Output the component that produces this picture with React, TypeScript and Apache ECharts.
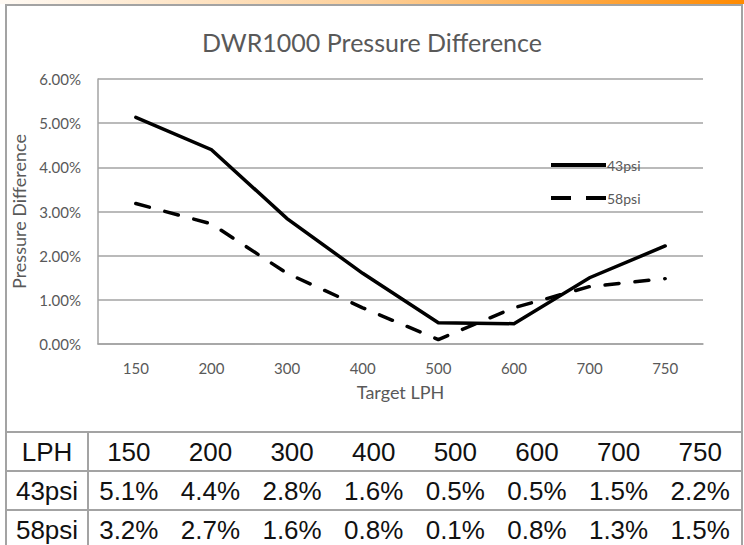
import React, { useEffect, useRef } from "react";
import * as echarts from "echarts";

const categories = ["150", "200", "300", "400", "500", "600", "700", "750"];
const psi43 = [5.13, 4.4, 2.84, 1.6, 0.48, 0.46, 1.5, 2.22];
const psi58 = [3.18, 2.72, 1.6, 0.82, 0.1, 0.82, 1.3, 1.48];
const seriesNames = ["43psi", "58psi"];
const yTicks = [0, 1, 2, 3, 4, 5, 6];
const tableHeader = "LPH";

const W = 744;
const H = 545;

export default function App() {
  const ref = useRef<HTMLDivElement>(null);
  useEffect(() => {
    if (!ref.current) return;
    const chart = echarts.init(ref.current, undefined, { renderer: "svg" });
    const gray = "#a3a3a3";
    const textGray = "#595959";
    const chartFont = "Lato, 'Open Sans', sans-serif";
    const tableFont = "'Liberation Sans Narrow', 'Liberation Sans', Arial, sans-serif";

    const frameL = 6;
    const frameR = 741;
    const tableTop = 432;
    const rowH = 39;
    const firstColR = 88;
    const colW = (frameR - firstColR) / categories.length;

    const rows = [
      { label: tableHeader, vals: categories },
      { label: seriesNames[0], vals: psi43.map((v) => v.toFixed(1) + "%") },
      { label: seriesNames[1], vals: psi58.map((v) => v.toFixed(1) + "%") },
    ];

    const graphics: any[] = [
      {
        type: "rect",
        shape: { x: 0, y: 0, width: W, height: 4 },
        style: {
          fill: new echarts.graphic.LinearGradient(0, 0, 1, 0, [
            { offset: 0, color: "#fffaf4" },
            { offset: 0.5, color: "#fdcf98" },
            { offset: 1, color: "#ff8a00" },
          ]),
        },
        silent: true,
      },
      {
        type: "polyline",
        shape: { points: [[frameL, H + 5], [frameL, 5], [frameR + 1, 5], [frameR + 1, H + 5]] },
        style: { stroke: gray, lineWidth: 2, fill: null },
        silent: true,
      },
      {
        type: "line",
        shape: { x1: firstColR, y1: tableTop, x2: firstColR, y2: H + 5 },
        style: { stroke: gray, lineWidth: 2 },
        silent: true,
      },
    ];
    for (let r = 0; r < 3; r++) {
      const y0 = tableTop + r * rowH;
      graphics.push({
        type: "line",
        shape: { x1: frameL, y1: y0, x2: frameR + 1, y2: y0 },
        style: { stroke: gray, lineWidth: 2 },
        silent: true,
      });
      const cy = y0 + rowH / 2;
      graphics.push({
        type: "text",
        x: (frameL + firstColR) / 2,
        y: cy,
        style: {
          text: rows[r].label,
          font: `26px ${tableFont}`,
          fill: "#111",
          align: "center",
          verticalAlign: "middle",
        },
        silent: true,
      });
      rows[r].vals.forEach((t, i) => {
        graphics.push({
          type: "text",
          x: firstColR + colW * (i + 0.5),
          y: cy,
          style: {
            text: t,
            font: `26px ${tableFont}`,
            fill: "#111",
            align: "center",
            verticalAlign: "middle",
          },
          silent: true,
        });
      });
    }

    const solidIcon = "path://M0,0h55v4h-55z";
    const dashIcon = "path://M0,0h20v4h-20zM35,0h20v4h-20z";

    chart.setOption({
      animation: false,
      backgroundColor: "#fff",
      title: {
        text: "DWR1000 Pressure Difference",
        left: "center",
        top: 24,
        textStyle: { fontFamily: chartFont, fontSize: 25, fontWeight: "normal", color: textGray },
      },
      legend: {
        orient: "vertical",
        left: 546,
        top: 153,
        itemWidth: 55,
        itemHeight: 4,
        itemGap: 19,
        textStyle: { fontFamily: chartFont, fontSize: 14, color: textGray, padding: [0, 0, 0, -4] },
        data: [
          { name: seriesNames[0], icon: solidIcon },
          { name: seriesNames[1], icon: dashIcon },
        ],
      },
      grid: { left: 98, right: W - 703, top: 79, bottom: H - 344, containLabel: false },
      xAxis: {
        type: "category",
        data: categories,
        boundaryGap: true,
        name: "Target LPH",
        nameLocation: "middle",
        nameGap: 39,
        nameTextStyle: { fontFamily: chartFont, fontSize: 18, color: textGray },
        axisLine: { lineStyle: { color: gray, width: 1.5 } },
        axisTick: { show: false },
        axisLabel: { fontFamily: chartFont, fontSize: 15, color: textGray, margin: 16 },
      },
      yAxis: {
        type: "value",
        min: yTicks[0],
        max: yTicks[yTicks.length - 1],
        interval: 1,
        name: "Pressure Difference",
        nameLocation: "middle",
        nameGap: 63,
        nameTextStyle: { fontFamily: chartFont, fontSize: 18, color: textGray },
        axisLine: { show: true, lineStyle: { color: gray, width: 1.5 } },
        axisTick: { show: false },
        splitLine: { lineStyle: { color: gray, width: 1.5 } },
        axisLabel: {
          fontFamily: chartFont,
          fontSize: 15,
          color: textGray,
          margin: 17,
          formatter: (v: number) => v.toFixed(2) + "%",
        },
      },
      series: [
        {
          name: seriesNames[0],
          type: "line",
          data: psi43,
          symbol: "none",
          lineStyle: { color: "#000", width: 3.5, cap: "round", join: "miter" },
          itemStyle: { color: "#000" },
        },
        {
          name: seriesNames[1],
          type: "line",
          data: psi58,
          symbol: "none",
          lineStyle: { color: "#000", width: 3.5, type: [14, 16], cap: "round" },
          itemStyle: { color: "#000" },
        },
      ],
      graphic: graphics,
    });
    return () => chart.dispose();
  }, []);
  return (
    <div
      ref={ref}
      style={{ position: "fixed", left: 0, top: 0, width: W, height: H, background: "#fff" }}
    />
  );
}
